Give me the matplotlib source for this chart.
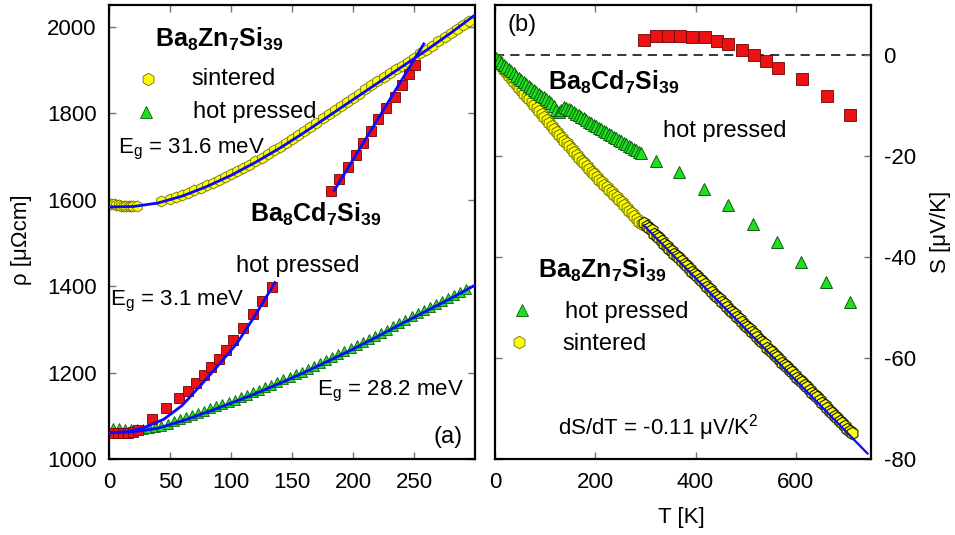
import matplotlib
matplotlib.use("Agg")
import matplotlib.pyplot as plt

plt.rcParams['font.family'] = ['Liberation Sans', 'DejaVu Sans']
plt.rcParams['mathtext.fontset'] = 'custom'
plt.rcParams['mathtext.rm'] = 'Liberation Sans'
plt.rcParams['mathtext.it'] = 'Liberation Sans:italic'
plt.rcParams['mathtext.bf'] = 'Liberation Sans:bold'
plt.rcParams['axes.unicode_minus'] = False

# ---- (a) resistivity, Ba8Zn7Si39 sintered
zn_sint_T = [2, 4, 6, 8, 10, 12, 14, 16, 18, 20, 23, 43,
             50, 55, 60, 65, 70, 75, 80, 85, 90, 95, 100, 105, 110, 115, 120,
             125, 130, 135, 140, 145, 150, 155, 160, 165, 170, 175, 180, 185,
             190, 195, 200, 205, 210, 215, 220, 225, 230, 235, 240, 245, 250,
             255, 260, 265, 270, 275, 280, 285, 290, 295]
zn_sint_rho = [1590, 1589, 1588, 1587, 1586, 1586, 1585, 1585, 1585, 1585, 1586, 1596,
               1602, 1607, 1611, 1616, 1622, 1627, 1633, 1639, 1646, 1652, 1659, 1666,
               1674, 1681, 1689, 1697, 1706, 1714, 1722, 1731, 1740, 1749, 1758, 1768,
               1778, 1788, 1798, 1807, 1817, 1826, 1836, 1845, 1855, 1864, 1874, 1883,
               1892, 1901, 1910, 1919, 1928, 1938, 1947, 1956, 1966, 1975, 1985, 1995,
               2004, 2014]
zn_sint_fit_T = [0, 20, 40, 60, 80, 100, 120, 140, 160, 180, 200, 220, 240, 260, 280, 300]
zn_sint_fit_rho = [1583, 1584, 1592, 1608, 1630, 1656, 1686, 1719, 1755, 1793, 1831,
                   1869, 1907, 1945, 1985, 2027]

# Ba8Zn7Si39 hot pressed
zn_hp_T = [3, 8, 13, 18, 23, 28, 33, 38, 43, 48, 53, 58, 63, 68, 73, 78, 83, 88,
           93, 98, 103, 108, 113, 118, 123, 128, 133, 138, 143, 148, 153, 158, 163,
           168, 173, 178, 183, 188, 193, 198, 203, 208, 213, 218, 223, 228, 233, 238,
           243, 248, 253, 258, 263, 268, 273, 278, 283, 288, 293]
zn_hp_rho = [1072, 1071, 1070, 1069, 1069, 1070, 1071, 1074, 1077, 1082, 1087, 1092,
             1097, 1102, 1107, 1112, 1117, 1122, 1127, 1132, 1137, 1143, 1148, 1154,
             1160, 1166, 1172, 1178, 1184, 1190, 1196, 1202, 1209, 1215, 1222, 1228,
             1235, 1242, 1249, 1256, 1263, 1270, 1277, 1284, 1292, 1299, 1307, 1315,
             1322, 1330, 1337, 1344, 1351, 1359, 1366, 1373, 1380, 1387, 1394]
zn_hp_fit_T = [0, 20, 40, 60, 80, 100, 120, 140, 160, 180, 200, 220, 240, 260, 280, 300]
zn_hp_fit_rho = [1061, 1063, 1071, 1088, 1108, 1129, 1151, 1175, 1200, 1227, 1254,
                 1283, 1313, 1342, 1371, 1402]

# Ba8Cd7Si39 hot pressed (low T part)
cd_T = [3.5, 7.6, 11.7, 15.8, 19.9, 24, 34.9, 47.1, 57.2, 64.8, 71.6, 77.6, 83.9,
        90.1, 96.2, 101.6, 109.8, 117.9, 125.6, 133.7]
cd_rho = [1059, 1059, 1059, 1060, 1063, 1067, 1092, 1117, 1140, 1158, 1176, 1194,
          1213, 1232, 1253, 1275, 1304, 1336, 1366, 1398]
cd_fit_T = [0, 15, 30, 45, 60, 75, 90, 105, 120, 136]
cd_fit_rho = [1060, 1063, 1074, 1092, 1124, 1170, 1218, 1268, 1333, 1408]

# Ba8Cd7Si39 hot pressed (upper part)
cd2_T = [182, 188.7, 195.5, 202.3, 208.6, 215.1, 220.6, 227.4, 234.2, 240.5, 245.9, 250.8]
cd2_rho = [1620, 1647, 1675, 1704, 1730, 1758, 1787, 1812, 1838, 1864, 1891, 1912]
cd2_fit_T = [184.6, 258]
cd2_fit_rho = [1621, 1960]

# ---- (b) thermopower
cd_S_T = [297, 321, 345, 369, 393, 418, 443, 465, 492, 517, 540, 565, 613, 662, 709]
cd_S = [3.0, 3.8, 3.9, 3.8, 3.6, 3.6, 2.8, 2.3, 1.1, 0.1, -1.2, -2.5, -4.75, -8.05, -11.9]

zn_hp_S_T = [2, 7, 12, 17, 22, 27, 32, 37, 42, 47, 52, 57, 62, 67, 72, 77, 82, 87,
             92, 97, 102, 107, 112, 117, 122, 127, 132, 137, 142, 147, 152, 157, 162,
             167, 172, 177, 182, 187, 192, 197, 202, 207, 212, 217, 222, 227, 232, 237,
             242, 247, 252, 257, 262, 267, 272, 277, 282, 287, 292,
             321, 368, 417, 465, 515, 563, 611, 660, 708]
zn_hp_S = [-0.6, -1.0, -1.4, -1.8, -2.2, -2.7, -3.1, -3.5, -4.0, -4.4, -4.8, -5.2,
           -5.7, -6.1, -6.5, -6.8, -7.2, -7.6, -8.0, -8.3, -8.7, -9.1, -9.5, -10.0,
           -10.9, -11.2, -10.9, -10.3, -10.4, -10.6, -10.9, -11.3, -11.6, -11.9, -12.2,
           -12.5, -12.8, -13.1, -13.4, -13.7, -14.0, -14.3, -14.6, -14.9, -15.2, -15.5,
           -15.8, -16.1, -16.4, -16.7, -17.0, -17.3, -17.6, -17.9, -18.2, -18.5, -18.8,
           -19.1, -19.4,
           -21.0, -23.2, -26.5, -29.7, -33.5, -37.0, -40.9, -44.9, -48.9]

zn_sint_S_T = [3, 8, 13, 18, 23, 28, 33, 38, 43, 48, 53, 58, 63, 68, 73, 78, 83, 88,
               93, 98, 103, 108, 113, 118, 123, 128, 133, 138, 143, 148, 153, 158, 163,
               168, 173, 178, 183, 188, 193, 198, 203, 208, 213, 218, 223, 228, 233,
               238, 243, 248, 253, 258, 263, 268, 273, 278, 283, 288, 293]
zn_sint_S = [-1.0, -1.6, -2.2, -2.8, -3.4, -4.0, -4.6, -5.2, -5.8, -6.4, -7.0, -7.6,
             -8.2, -8.7, -9.3, -9.9, -10.5, -11.1, -11.7, -12.2, -12.8, -13.4, -14.0,
             -14.6, -15.1, -15.7, -16.3, -16.9, -17.4, -18.0, -18.6, -19.2, -19.7,
             -20.3, -20.9, -21.4, -22.0, -22.6, -23.1, -23.6, -24.1, -24.6, -25.1,
             -25.6, -26.1, -26.6, -27.1, -27.6, -28.1, -28.6, -29.1, -29.7, -30.2,
             -30.8, -31.3, -31.9, -32.4, -33.0, -33.5]

zn_hi_T = [298, 303, 308, 313, 318, 323, 328, 333, 338, 343, 348, 353, 358, 363, 368,
           373, 378, 383, 388, 393, 398, 403, 408, 413, 418, 423, 428, 433, 438, 443,
           448, 453, 458, 463, 468, 473, 478, 483, 488, 493, 498, 503, 508, 513, 518,
           523, 528, 533, 538, 543, 548, 553, 558, 563, 568, 573, 578, 583, 588, 593,
           598, 603, 608, 613, 618, 623, 628, 633, 638, 643, 648, 653, 658, 663, 668,
           673, 678, 683, 688, 693, 698, 703, 708, 713]
zn_hi_S = [-33.3, -33.9, -34.3, -34.7, -35.3, -35.8, -36.2, -36.8, -37.3, -37.7, -38.3,
           -38.7, -39.3, -39.8, -40.2, -40.8, -41.4, -41.8, -42.3, -42.9, -43.3, -43.8,
           -44.4, -44.8, -45.3, -45.9, -46.3, -46.8, -47.4, -47.8, -48.3, -48.9, -49.3,
           -49.8, -50.4, -50.8, -51.3, -51.9, -52.3, -52.8, -53.4, -53.8, -54.3, -54.9,
           -55.3, -55.8, -56.4, -56.8, -57.3, -57.9, -58.3, -58.8, -59.4, -59.8, -60.3,
           -60.9, -61.3, -61.8, -62.4, -62.8, -63.3, -63.9, -64.3, -64.8, -65.4, -65.8,
           -66.3, -66.9, -67.3, -67.8, -68.4, -68.8, -69.3, -69.9, -70.4, -70.9, -71.4,
           -71.9, -72.4, -72.9, -73.5, -74.0, -74.5, -74.9]
zn_hi_fit_T = [297, 743]
zn_hi_fit_S = [-33.7, -78.9]

YEL = '#ffff00'
YEL_E = '#6e6e00'
GRN = '#1ee01e'
GRN_E = '#0e5e0e'
RED = '#ee1111'
RED_E = '#700000'
BLUE = '#0a0aff'

fig = plt.figure(figsize=(9.55, 5.35), dpi=100)
ax1 = fig.add_axes([109 / 955, 76 / 535, 366 / 955, 454 / 535])
ax2 = fig.add_axes([495 / 955, 76 / 535, 376 / 955, 454 / 535])

# ----- panel (a)
ax1.plot(zn_sint_T, zn_sint_rho, 'h', ms=8, mfc=YEL, mec=YEL_E, mew=0.6, ls='none')
ax1.plot(zn_hp_T, zn_hp_rho, '^', ms=7.5, mfc=GRN, mec=GRN_E, mew=0.6, ls='none')
ax1.plot(cd_T, cd_rho, 's', ms=7.5, mfc=RED, mec=RED_E, mew=0.6, ls='none')
ax1.plot(cd2_T, cd2_rho, 's', ms=7.5, mfc=RED, mec=RED_E, mew=0.6, ls='none')
for fx, fy in [(zn_sint_fit_T, zn_sint_fit_rho), (zn_hp_fit_T, zn_hp_fit_rho),
               (cd_fit_T, cd_fit_rho), (cd2_fit_T, cd2_fit_rho)]:
    ax1.plot(fx, fy, '-', color=BLUE, lw=2, zorder=5)

ax1.set_xlim(0, 300)
ax1.set_ylim(1000, 2050)
ax1.set_xticks([0, 50, 100, 150, 200, 250])
ax1.set_yticks([1000, 1200, 1400, 1600, 1800, 2000])

t1 = ax1.transAxes
ax1.text(0.126, 0.925, r'$\mathbf{Ba_8Zn_7Si_{39}}$', transform=t1, fontsize=18, va='center')
ax1.plot([0.107], [0.837], 'h', ms=9, mfc=YEL, mec=YEL_E, mew=0.6, transform=t1)
ax1.text(0.224, 0.837, 'sintered', transform=t1, fontsize=17, va='center')
ax1.plot([0.101], [0.764], '^', ms=8, mfc=GRN, mec=GRN_E, mew=0.6, transform=t1)
ax1.text(0.229, 0.764, 'hot pressed', transform=t1, fontsize=17, va='center')
ax1.text(0.025, 0.674, r'E$_\mathrm{g}$ = 31.6 meV', transform=t1, fontsize=16, va='baseline')
ax1.text(0.385, 0.522, r'$\mathbf{Ba_8Cd_7Si_{39}}$', transform=t1, fontsize=18, va='baseline')
ax1.text(0.347, 0.412, 'hot pressed', transform=t1, fontsize=17, va='baseline')
ax1.text(0.003, 0.339, r'E$_\mathrm{g}$ = 3.1 meV', transform=t1, fontsize=16, va='baseline')
ax1.text(0.568, 0.141, r'E$_\mathrm{g}$ = 28.2 meV', transform=t1, fontsize=16, va='baseline')
ax1.text(0.967, 0.048, '(a)', transform=t1, fontsize=17, ha='right', va='center')

# ----- panel (b)
ax2.axhline(0, color='black', lw=1.1, ls=(0, (6, 4)), zorder=1)
ax2.plot(zn_sint_S_T, zn_sint_S, 'h', ms=9, mfc=YEL, mec=YEL_E, mew=0.7, ls='none')
ax2.plot(zn_hi_T, zn_hi_S, 'h', ms=9, mfc=YEL, mec='#1a1a00', mew=0.8, ls='none')
ax2.plot(zn_hp_S_T, zn_hp_S, '^', ms=9, mfc=GRN, mec=GRN_E, mew=0.7, ls='none')
ax2.plot(cd_S_T, cd_S, 's', ms=8.5, mfc=RED, mec=RED_E, mew=0.6, ls='none')
ax2.plot(zn_hi_fit_T, zn_hi_fit_S, '-', color=BLUE, lw=1.6, zorder=5)

ax2.set_xlim(0, 750)
ax2.set_ylim(-80, 10)
ax2.set_xticks([0, 200, 400, 600])
ax2.set_yticks([-80, -60, -40, -20, 0])
ax2.yaxis.tick_right()

t2 = ax2.transAxes
ax2.text(0.032, 0.956, '(b)', transform=t2, fontsize=17, va='center')
ax2.text(0.141, 0.813, r'$\mathbf{Ba_8Cd_7Si_{39}}$', transform=t2, fontsize=18, va='baseline')
ax2.text(0.447, 0.709, 'hot pressed', transform=t2, fontsize=17, va='baseline')
ax2.text(0.114, 0.399, r'$\mathbf{Ba_8Zn_7Si_{39}}$', transform=t2, fontsize=18, va='baseline')
ax2.plot([0.071], [0.328], '^', ms=8, mfc=GRN, mec=GRN_E, mew=0.6, transform=t2)
ax2.text(0.186, 0.311, 'hot pressed', transform=t2, fontsize=17, va='baseline')
ax2.plot([0.065], [0.258], 'h', ms=9, mfc=YEL, mec=YEL_E, mew=0.6, transform=t2)
ax2.text(0.178, 0.240, 'sintered', transform=t2, fontsize=17, va='baseline')
ax2.text(0.168, 0.053, 'dS/dT = -0.11 μV/K$^2$', transform=t2, fontsize=16, va='baseline')

for ax in (ax1, ax2):
    for sp in ax.spines.values():
        sp.set_linewidth(1.6)
    ax.tick_params(which='both', direction='in', length=5, width=1, color='0.45',
                   top=True, bottom=True, left=True, right=True, labelsize=16, pad=9)
ax2.tick_params(labelleft=False, labelright=True)

fig.text(22 / 955, 1 - 240 / 535, 'ρ [μΩcm]', rotation=90, fontsize=16, ha='center', va='center')
fig.text(940 / 955, 1 - 232 / 535, 'S [μV/K]', rotation=90, fontsize=16, ha='center', va='center')
fig.text(681 / 955, 1 - 517 / 535, 'T [K]', fontsize=16, ha='center', va='center')

fig.savefig('out.png', dpi=100)
